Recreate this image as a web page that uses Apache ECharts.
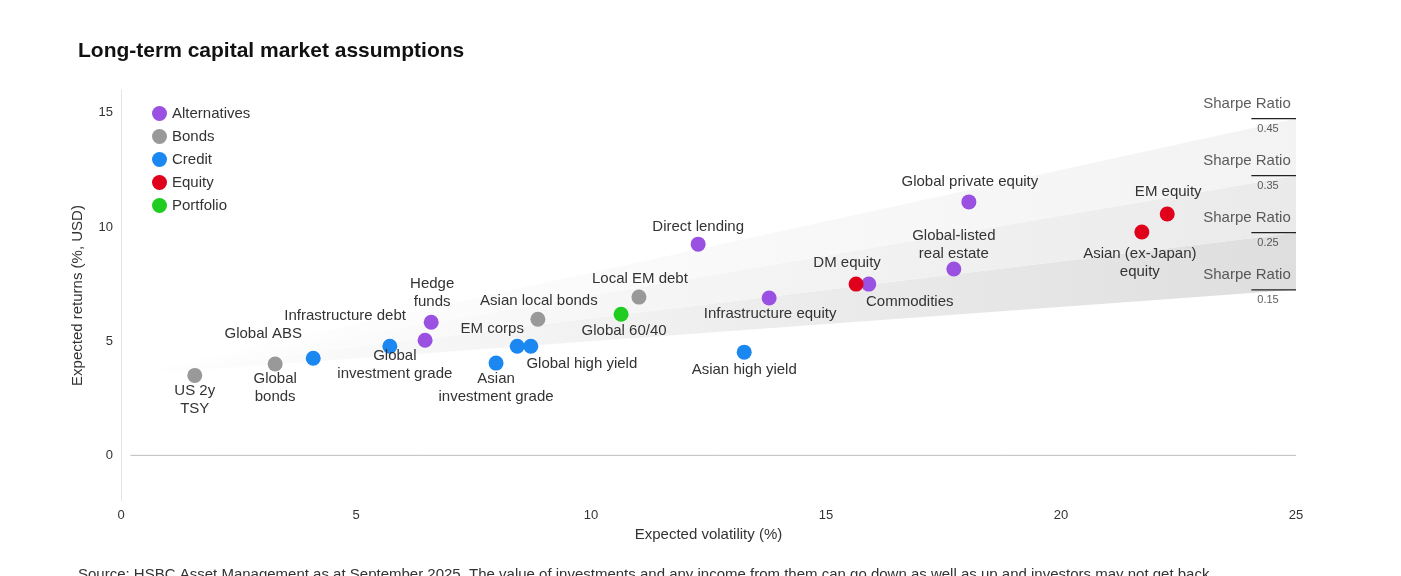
<!DOCTYPE html>
<html><head><meta charset="utf-8">
<script src="https://cdn.jsdelivr.net/npm/echarts@6/dist/echarts.min.js"></script>
<style>html,body{margin:0;padding:0;background:#fff}#c{width:1401px;height:576px}</style>
</head><body><div id="c"></div>
<script>
const groups = ['Alternatives','Bonds','Credit','Equity','Portfolio'];
const groupColors = ['#9a50e0','#999999','#1a88f0','#e0001b','#1fcc1f'];
const assetNames = ['US 2y\nTSY','Global\nbonds','Global ABS','Global\ninvestment grade','Infrastructure debt','Hedge\nfunds','Asian\ninvestment grade','EM corps','Global high yield','Asian local bonds','Global 60/40','Local EM debt','Direct lending','Asian high yield','Infrastructure equity','DM equity','Commodities','Global-listed\nreal estate','Global private equity','Asian (ex-Japan)\nequity','EM equity'];
const assetGroup = ['Bonds','Bonds','Credit','Credit','Alternatives','Alternatives','Credit','Credit','Credit','Bonds','Portfolio','Bonds','Alternatives','Credit','Alternatives','Equity','Alternatives','Alternatives','Alternatives','Equity','Equity'];
const volatility = [1.57,3.28,4.09,5.72,6.47,6.6,7.98,8.43,8.72,8.87,10.64,11.02,12.28,13.26,13.79,15.64,15.91,17.72,18.04,21.72,22.26];
const returns = [3.5,4.0,4.25,4.78,5.04,5.83,4.04,4.78,4.78,5.96,6.18,6.93,9.25,4.52,6.89,7.5,7.5,8.16,11.1,9.78,10.57];
const riskFree = 3.5;
const sharpeRatios = [0.15,0.25,0.35,0.45];
const xTicks = [0,5,10,15,20,25];
const yTicks = [0,5,10,15];

const labelOffsets = [[0,24],[0,24],[-50,-24],[5,19],[-80,-24],[1,-29],[0,25],[-25,-17],[51,18],[1,-18],[3,17],[1,-18],[0,-17],[0,18],[1,16],[-9,-21],[41,18],[0,-24],[1,-20],[-2,31],[1,-22]];

const FONT='Liberation Sans';
const bandFills = ['#dedede','#eaeaea','#f3f3f3'];
const series = [];
const bands = sharpeRatios.slice(1).map((s,i)=>[sharpeRatios[i],s,i]);
series.push({type:'custom',silent:true,z:1,data:bands,
  renderItem:(params,api)=>{
    const lo=api.value(0), hi=api.value(1), i=api.value(2);
    const p0=api.coord([0,riskFree]), p1=api.coord([25,riskFree+hi*25]), p2=api.coord([25,riskFree+lo*25]);
    return {type:'polygon',shape:{points:[p0,p1,p2]},
      style:{fill:new echarts.graphic.LinearGradient(0,0,1,0,[{offset:0,color:'#ffffff'},{offset:1,color:bandFills[i]}])}};
  }});
sharpeRatios.forEach(s=>{
  const y=riskFree+s*25;
  series.push({type:'line',symbol:'none',silent:true,lineStyle:{color:'#222',width:1.2},data:[[24.05,y],[25,y]],z:3});
  series.push({type:'scatter',symbolSize:0,silent:true,data:[[25,y]],z:3,
    label:{show:true,position:'inside',formatter:'Sharpe Ratio',fontSize:15,color:'#333',fontFamily:FONT,offset:[-49,-15]}});
  series.push({type:'scatter',symbolSize:0,silent:true,data:[[25,y]],z:3,
    label:{show:true,position:'inside',formatter:s.toFixed(2),fontSize:11,color:'#333',fontFamily:FONT,offset:[-28,10]}});
});
series.push({type:'line',symbol:'none',silent:true,lineStyle:{color:'#bbb',width:1},data:[[0.2,0],[25,0]],z:2});
groups.forEach((g,gi)=>{
  const data=[];
  assetNames.forEach((n,i)=>{ if(assetGroup[i]===g) data.push({value:[volatility[i],returns[i]],name:n,
    label:{offset:labelOffsets[i]}}); });
  series.push({name:g,type:'scatter',symbolSize:15,itemStyle:{color:groupColors[gi],opacity:1},z:5,
    label:{show:true,position:'inside',formatter:p=>p.name,color:'#333',fontSize:15,fontFamily:FONT,lineHeight:18,align:'center'},
    data});
});

const chart=echarts.init(document.getElementById('c'));
chart.setOption({
  animation:false,
  title:{text:'Long-term capital market assumptions',left:73,top:36,textStyle:{fontSize:21,fontWeight:'bold',color:'#111',fontFamily:FONT}},
  legend:{data:groups,orient:'vertical',left:147,top:101,itemGap:8,itemWidth:15,itemHeight:15,icon:'circle',
    textStyle:{fontSize:15,color:'#333',fontFamily:FONT}},
  grid:{left:121,right:105,top:90,bottom:75},
  xAxis:{type:'value',min:0,max:25,name:'Expected volatility (%)',nameLocation:'middle',nameGap:26,
    nameTextStyle:{fontSize:15,color:'#333',fontFamily:FONT},
    axisLine:{show:false},axisTick:{show:false},splitLine:{show:false},
    axisLabel:{customValues:xTicks,color:'#333',fontSize:13,fontFamily:FONT}},
  yAxis:{type:'value',min:-2,max:16,name:'Expected returns (%, USD)',nameLocation:'middle',nameGap:36,
    nameTextStyle:{fontSize:15,color:'#333',fontFamily:FONT},
    axisLine:{show:true,lineStyle:{color:'#e4e4e4'}},axisTick:{show:false},splitLine:{show:false},
    axisLabel:{customValues:yTicks,color:'#333',fontSize:13,fontFamily:FONT}},
  graphic:[{type:'text',left:78,top:567,style:{text:'Source: HSBC Asset Management as at September 2025. The value of investments and any income from them can go down as well as up and investors may not get back',fontSize:15,fill:'#333',fontFamily:FONT}}],
  series
});
</script></body></html>
